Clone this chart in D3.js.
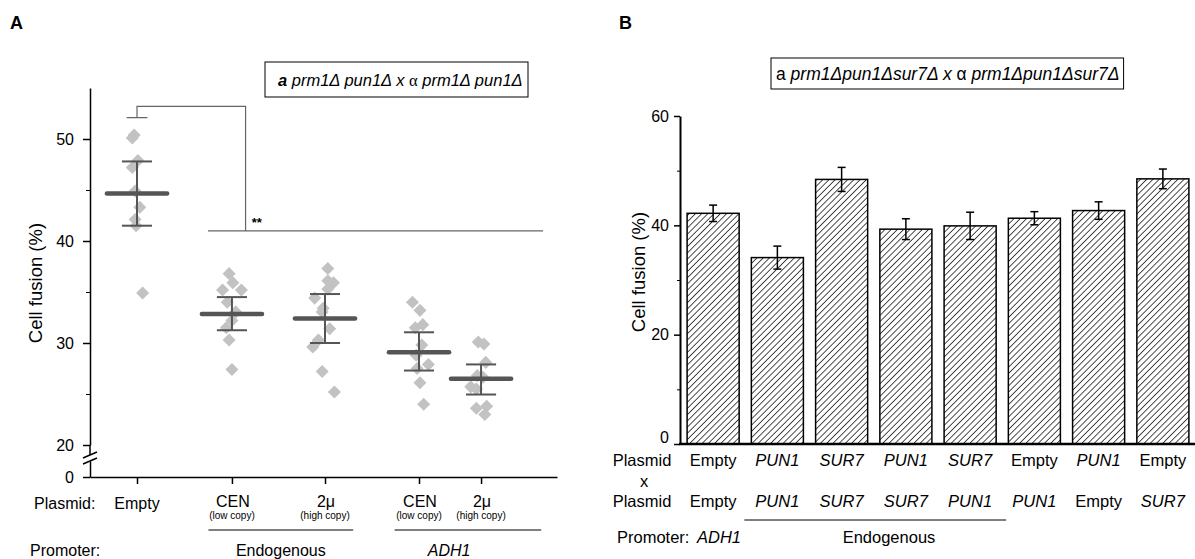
<!DOCTYPE html>
<html>
<head>
<meta charset="utf-8">
<script src="https://cdn.jsdelivr.net/npm/d3@7"></script>
<style>
  body { margin: 0; background: #fff; }
  svg { font-family: Arial, 'Liberation Sans', Helvetica, sans-serif; }
</style>
</head>
<body>
<svg id="chart"></svg>
<script>
// ---- panel A data ----
const groupNamesA = ['Empty', 'CEN', '2μ', 'CEN', '2μ'];
const groupSubA = ['', '(low copy)', '(high copy)', '(low copy)', '(high copy)'];
const groupPosA = [1, 2.01, 3, 4, 4.66];
const meansA = [44.65, 32.85, 32.4, 29.1, 26.5];
const errHiA = [47.8, 34.5, 34.8, 31.05, 27.9];
const errLoA = [41.5, 31.25, 30.0, 27.3, 24.95];

const ptsEmpty = [50.4, 50.1, 47.9, 47.2, 44.9, 43.3, 42.1, 41.5, 34.9];
const ptsCenEndo = [36.8, 35.9, 35.2, 35.2, 34.0, 33.05, 32.2, 31.5, 30.3, 27.4];
const pts2uEndo = [37.3, 36.1, 35.9, 35.3, 34.4, 33.4, 33.05, 31.4, 30.3, 29.6, 27.2, 25.2];
const ptsCenAdh = [34.0, 33.2, 31.8, 31.5, 29.8, 28.8, 27.9, 27.5, 26.1, 24.0];
const pts2uAdh = [30.1, 29.9, 28.1, 26.8, 26.65, 25.7, 25.5, 23.6, 23.8, 23.0];
const pointsA = [ptsEmpty, ptsCenEndo, pts2uEndo, ptsCenAdh, pts2uAdh];

// horizontal scatter of the dots, in group units
const jitterA = [
  [-0.03, -0.05, 0.01, -0.05, -0.02, 0.03, -0.02, -0.01, 0.06],
  [-0.03, 0.01, -0.1, 0.1, -0.05, 0.04, 0, -0.06, -0.03, 0],
  [0.03, 0.03, 0.09, 0.03, -0.11, -0.02, -0.03, 0.05, -0.07, -0.13, -0.03, 0.1],
  [-0.07, 0.01, 0.04, -0.04, 0.03, -0.03, 0.1, -0.02, 0.01, 0.05],
  [-0.03, 0.03, 0.05, -0.04, 0.02, -0.11, -0.05, -0.05, 0.06, 0.04]
];

// ---- panel B data ----
const plasmid1B = ['Empty', 'PUN1', 'SUR7', 'PUN1', 'SUR7', 'Empty', 'PUN1', 'Empty'];
const plasmid2B = ['Empty', 'PUN1', 'SUR7', 'SUR7', 'PUN1', 'PUN1', 'Empty', 'SUR7'];
const fusionB = [42.2, 34.1, 48.4, 39.3, 39.9, 41.3, 42.7, 48.5];
const semB = [1.5, 2.1, 2.2, 1.9, 2.5, 1.2, 1.6, 1.8];

const svg = d3.select('#chart')
  .attr('width', 1195)
  .attr('height', 559);

// =========================== panel A ===========================
const xA = d3.scaleLinear().domain([0.5, 5.468]).range([90, 557]);
const yA = d3.scaleLinear().domain([20, 55]).range([445, 88]);
const yA0 = d3.scaleLinear().domain([0, 1]).range([477, 461]);

const gA = svg.append('g');

gA.append('text')
  .attr('x', 10).attr('y', 29)
  .style('font-size', '18px').style('font-weight', 'bold')
  .text('A');

// legend box
const legA = gA.append('text')
  .attr('x', 278).attr('y', 86)
  .style('font-size', '16.5px').style('font-style', 'italic');
legA.append('tspan').style('font-weight', 'bold').text('a');
legA.append('tspan').text(' prm1Δ pun1Δ x ');
legA.append('tspan').style('font-family', "'Liberation Serif', 'Times New Roman', serif")
  .style('font-style', 'normal').text('α');
legA.append('tspan').text(' prm1Δ pun1Δ');
gA.append('rect')
  .attr('x', 265).attr('y', 62).attr('width', 263).attr('height', 35)
  .attr('fill', 'none').attr('stroke', '#000').attr('stroke-width', 1);

// y axis (upper part)
const yAxA = gA.append('g')
  .attr('transform', 'translate(90,0)')
  .call(d3.axisLeft(yA).tickValues([20, 30, 40, 50]).tickSize(7).tickSizeOuter(0).tickPadding(9));
gA.append('g')
  .attr('transform', 'translate(90,0)')
  .call(d3.axisLeft(yA).tickValues([25, 35, 45]).tickSize(4).tickFormat(''))
  .call(g => g.select('.domain').remove());
// lower part with 0
const yAxA0 = gA.append('g')
  .attr('transform', 'translate(90,0)')
  .call(d3.axisLeft(yA0).tickValues([0]).tickFormat(d3.format('d')).tickSize(7).tickSizeOuter(0).tickPadding(9));

// short piece below 20 and break marks
gA.append('line')
  .attr('x1', 90).attr('x2', 90).attr('y1', yA(20)).attr('y2', yA(20) + 10)
  .attr('stroke', '#000').attr('stroke-width', 1.5);
[0, 6].forEach(dy => {
  gA.append('line')
    .attr('x1', 83).attr('y1', 458 + dy).attr('x2', 97).attr('y2', 452 + dy)
    .attr('stroke', '#000').attr('stroke-width', 1.5);
});

// x axis
const xAxA = gA.append('g')
  .attr('transform', 'translate(0,477)')
  .call(d3.axisBottom(xA).tickValues(groupPosA).tickSize(7).tickSizeOuter(0).tickFormat(''));

[yAxA, yAxA0, xAxA].forEach(ax => {
  ax.selectAll('.domain').attr('stroke-width', 1.5);
  ax.selectAll('.tick line').attr('stroke-width', 1.5);
  ax.selectAll('.tick text').style('font-size', '16px').style('font-family', "Arial, 'Liberation Sans', sans-serif").attr('fill', '#000');
});

gA.append('text')
  .attr('transform', 'translate(42,283) rotate(-90)')
  .attr('text-anchor', 'middle')
  .style('font-size', '18.5px')
  .text('Cell fusion (%)');

// dots
pointsA.forEach((vals, gi) => {
  gA.selectAll(null)
    .data(vals)
    .enter()
    .append('path')
    .attr('d', d3.symbol(d3.symbolSquare, 85))
    .attr('transform', (d, i) => `translate(${xA(groupPosA[gi] + jitterA[gi][i])},${yA(d)}) rotate(45)`)
    .attr('fill', '#c2c2c2');
});

// error bars and means
const barColA = '#555';
groupPosA.forEach((p, i) => {
  gA.append('line')
    .attr('x1', xA(p)).attr('x2', xA(p))
    .attr('y1', yA(errHiA[i])).attr('y2', yA(errLoA[i]))
    .attr('stroke', barColA).attr('stroke-width', 2);
  [errHiA[i], errLoA[i]].forEach(v => {
    gA.append('line')
      .attr('x1', xA(p - 0.16)).attr('x2', xA(p + 0.16))
      .attr('y1', yA(v)).attr('y2', yA(v))
      .attr('stroke', barColA).attr('stroke-width', 2);
  });
  gA.append('line')
    .attr('x1', xA(p - 0.32)).attr('x2', xA(p + 0.32))
    .attr('y1', yA(meansA[i])).attr('y2', yA(meansA[i]))
    .attr('stroke', barColA).attr('stroke-width', 4.5).attr('stroke-linecap', 'round');
});

// significance bracket
const sigCol = '#666';
const sigPath = d3.path();
sigPath.moveTo(xA(0.89), yA(52.1));
sigPath.lineTo(xA(1.11), yA(52.1));
sigPath.moveTo(xA(1), yA(52.1));
sigPath.lineTo(xA(1), yA(53.2));
sigPath.lineTo(xA(2.155), yA(53.2));
sigPath.lineTo(xA(2.155), yA(41));
sigPath.moveTo(xA(1.755), yA(41));
sigPath.lineTo(xA(5.32), yA(41));
gA.append('path').attr('d', sigPath.toString())
  .attr('fill', 'none').attr('stroke', sigCol).attr('stroke-width', 1.2);
gA.append('text')
  .attr('x', xA(2.22)).attr('y', yA(41) - 4)
  .style('font-size', '13px').style('font-weight', 'bold')
  .text('**');

// category labels
gA.append('text').attr('x', 34).attr('y', 509).style('font-size', '16px').text('Plasmid:');
groupPosA.forEach((p, i) => {
  gA.append('text')
    .attr('x', xA(p) + (i === 0 ? 0 : 1)).attr('y', i === 0 ? 509 : 507)
    .attr('text-anchor', 'middle').style('font-size', '16px')
    .text(groupNamesA[i]);
  if (groupSubA[i]) {
    gA.append('text')
      .attr('x', xA(p)).attr('y', 519)
      .attr('text-anchor', 'middle').style('font-size', '10px')
      .text(groupSubA[i]);
  }
});
[[1.76, 3.3], [3.74, 5.3]].forEach(r => {
  gA.append('line')
    .attr('x1', xA(r[0])).attr('x2', xA(r[1])).attr('y1', 530).attr('y2', 530)
    .attr('stroke', '#000').attr('stroke-width', 1);
});
gA.append('text').attr('x', 30).attr('y', 556).style('font-size', '16px').text('Promoter:');
gA.append('text').attr('x', xA(2.53)).attr('y', 556).attr('text-anchor', 'middle')
  .style('font-size', '16px').text('Endogenous');
gA.append('text').attr('x', xA(4.32)).attr('y', 556).attr('text-anchor', 'middle')
  .style('font-size', '16px').style('font-style', 'italic').text('ADH1');

// =========================== panel B ===========================
const xB = d3.scaleBand().domain(d3.range(fusionB.length))
  .range([681, 1195]).paddingInner(0.19).paddingOuter(0.095);
const yB = d3.scaleLinear().domain([0, 60]).range([444, 116]);

const gB = svg.append('g');

gB.append('text')
  .attr('x', 619).attr('y', 29)
  .style('font-size', '18px').style('font-weight', 'bold')
  .text('B');

const legB = gB.append('text')
  .attr('x', 776).attr('y', 80)
  .style('font-size', '17.5px');
legB.append('tspan').text('a ');
legB.append('tspan').style('font-style', 'italic').text('prm1Δpun1Δsur7Δ x ');
legB.append('tspan').text('α ');
legB.append('tspan').style('font-style', 'italic').text('prm1Δpun1Δsur7Δ');
const bb = legB.node().getBBox();
gB.append('rect')
  .attr('x', bb.x - 5).attr('y', 58).attr('width', bb.width + 9).attr('height', 31)
  .attr('fill', 'none').attr('stroke', '#000').attr('stroke-width', 1);

// hatch
const defs = svg.append('defs');
defs.append('pattern')
  .attr('id', 'hatch')
  .attr('patternUnits', 'userSpaceOnUse')
  .attr('width', 4.4).attr('height', 4.4)
  .attr('patternTransform', 'rotate(45)')
  .append('line')
  .attr('x1', 0).attr('y1', 0).attr('x2', 0).attr('y2', 4.4)
  .attr('stroke', '#000').attr('stroke-width', 1.4);

gB.selectAll('.bar')
  .data(fusionB)
  .enter()
  .append('rect')
  .attr('class', 'bar')
  .attr('x', (d, i) => xB(i))
  .attr('y', d => yB(d))
  .attr('width', xB.bandwidth())
  .attr('height', d => yB(0) - yB(d))
  .attr('fill', 'url(#hatch)')
  .attr('stroke', '#000').attr('stroke-width', 1.5);

fusionB.forEach((v, i) => {
  const cx = xB(i) + xB.bandwidth() / 2;
  gB.append('line')
    .attr('x1', cx).attr('x2', cx).attr('y1', yB(v + semB[i])).attr('y2', yB(v - semB[i]))
    .attr('stroke', '#000').attr('stroke-width', 1.5);
  [v + semB[i], v - semB[i]].forEach(e => {
    gB.append('line')
      .attr('x1', cx - 4).attr('x2', cx + 4).attr('y1', yB(e)).attr('y2', yB(e))
      .attr('stroke', '#000').attr('stroke-width', 1.5);
  });
});

const yAxB = gB.append('g')
  .attr('transform', 'translate(680,0)')
  .call(d3.axisLeft(yB).tickValues([0, 20, 40, 60]).tickSize(6).tickSizeOuter(0).tickPadding(5));
gB.append('g')
  .attr('transform', 'translate(680,0)')
  .call(d3.axisLeft(yB).tickValues([10, 30, 50]).tickSize(3).tickFormat(''))
  .call(g => g.select('.domain').remove());
yAxB.select('.domain').attr('stroke-width', 2);
yAxB.selectAll('.tick line').attr('stroke-width', 1.5);
yAxB.selectAll('.tick text').style('font-size', '16px')
  .style('font-family', "Arial, 'Liberation Sans', sans-serif").attr('fill', '#000');
yAxB.selectAll('.tick').filter(d => d === 0).select('text').attr('dy', '-0.1em');

gB.append('line')
  .attr('x1', 679).attr('x2', 1195).attr('y1', yB(0)).attr('y2', yB(0))
  .attr('stroke', '#000').attr('stroke-width', 2.5);

gB.append('text')
  .attr('transform', 'translate(645,272) rotate(-90)')
  .attr('text-anchor', 'middle')
  .style('font-size', '18.5px')
  .text('Cell fusion (%)');

// labels under bars
const italicIf = t => (t === 'Empty' ? 'normal' : 'italic');
gB.append('text').attr('x', 642).attr('y', 466).attr('text-anchor', 'middle').style('font-size', '16.5px').text('Plasmid');
gB.append('text').attr('x', 644).attr('y', 487).attr('text-anchor', 'middle').style('font-size', '16.5px').text('x');
gB.append('text').attr('x', 642).attr('y', 507).attr('text-anchor', 'middle').style('font-size', '16.5px').text('Plasmid');
[plasmid1B, plasmid2B].forEach((row, r) => {
  gB.selectAll(null)
    .data(row)
    .enter()
    .append('text')
    .attr('x', (d, i) => xB(i) + xB.bandwidth() / 2)
    .attr('y', r === 0 ? 466 : 507)
    .attr('text-anchor', 'middle')
    .style('font-size', '16.5px')
    .style('font-style', d => italicIf(d))
    .text(d => d);
});
gB.append('line')
  .attr('x1', xB(1) - 7).attr('x2', xB(4) + xB.bandwidth() + 10)
  .attr('y1', 520).attr('y2', 520)
  .attr('stroke', '#000').attr('stroke-width', 1);
gB.append('text').attr('x', 617).attr('y', 543).style('font-size', '16.5px').text('Promoter:');
gB.append('text').attr('x', 697).attr('y', 543).style('font-size', '16.5px').style('font-style', 'italic').text('ADH1');
gB.append('text').attr('x', 889).attr('y', 543).attr('text-anchor', 'middle').style('font-size', '16.5px').text('Endogenous');
</script>
</body>
</html>
